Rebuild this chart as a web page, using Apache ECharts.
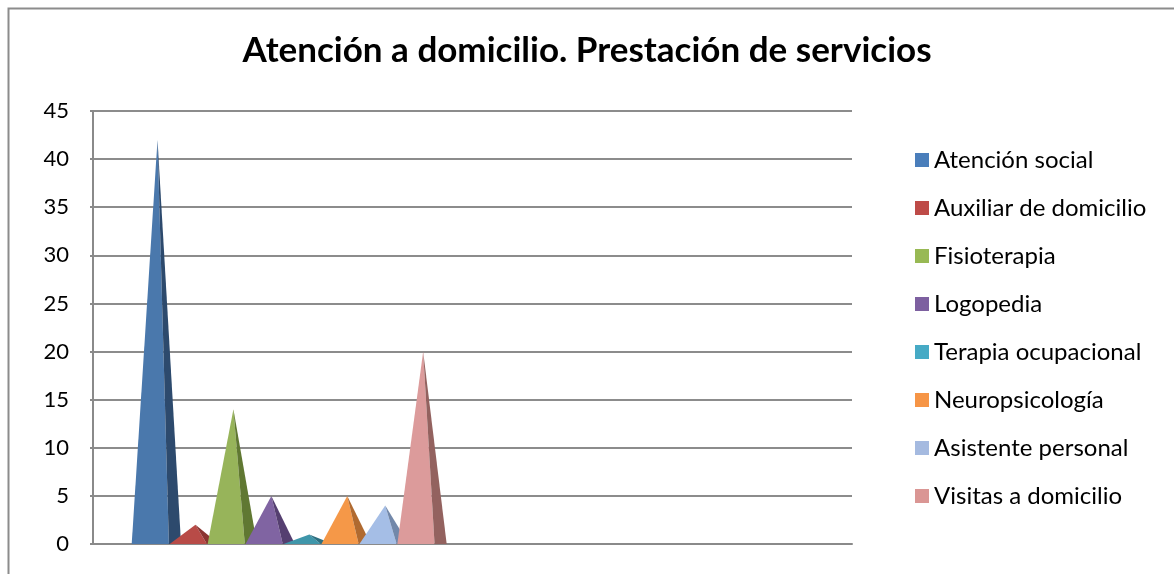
<!DOCTYPE html>
<html>
<head>
<meta charset="utf-8">
<script src="https://cdn.jsdelivr.net/npm/echarts@6/dist/echarts.min.js"></script>
<style>
    html, body {margin: 0; padding: 0; background: #fff;}
    #chartBox {width: 1174px; height: 574px;}
</style>
</head>
<body>
<div id="chartBox"></div>
<script>
// datos
let categorias = ['', ''];
let servicios = ['Atención social', 'Auxiliar de domicilio', 'Fisioterapia', 'Logopedia',
    'Terapia ocupacional', 'Neuropsicología', 'Asistente personal', 'Visitas a domicilio'];
let valores = [42, 2, 14, 5, 1, 5, 4, 20];
let yTicks = [0, 5, 10, 15, 20, 25, 30, 35, 40, 45];

// colores: leyenda, cara clara y cara oscura de cada pirámide
let colorLeyenda = ['#4A7EBB', '#BE4B48', '#98B954', '#7D60A0', '#46AAC5', '#F69546', '#A5BAE0', '#DA9694'];
let colorClaro = ['#4A78AC', '#B84B47', '#97B45A', '#8064A2', '#3F96AA', '#F59848', '#A5BEE6', '#DC9B9B'];
let colorOscuro = ['#2D4A6D', '#8A3430', '#607832', '#553F70', '#2C6F80', '#B06A30', '#7288AA', '#93625F'];

let chartBox = echarts.init(document.getElementById('chartBox'));

function piramide(idx) {
    return function (params, api) {
        let v = api.value(1);
        if (v == null || isNaN(v)) return;
        let cat = api.value(0);
        let base = api.coord([cat, 0]);
        let cima = api.coord([cat, v]);
        let slot = api.size([1, 0])[0] * 0.1;
        let cx = base[0] + (idx - 3.3) * slot;
        let izq = cx - slot * 0.68, corte = cx + slot * 0.3, der = cx + slot * 0.62;
        return {
            type: 'group',
            children: [
                {type: 'polygon', shape: {points: [[izq, base[1]], [cx, cima[1]], [corte, base[1]]]}, style: {fill: colorClaro[idx]}},
                {type: 'polygon', shape: {points: [[corte, base[1]], [cx, cima[1]], [der, base[1]]]}, style: {fill: colorOscuro[idx]}}
            ]
        };
    };
}

let series = servicios.map(function (nombre, i) {
    return {
        type: 'custom',
        name: nombre,
        renderItem: piramide(i),
        itemStyle: {color: colorLeyenda[i]},
        encode: {x: 0, y: 1},
        data: [[0, valores[i]]]
    };
});

let option = {
    animation: false,
    backgroundColor: '#fff',
    textStyle: {fontFamily: 'Lato'},
    title: {
        show: true, text: 'Atención a domicilio. Prestación de servicios', left: 'center', top: 28,
        textStyle: {fontFamily: 'Lato', fontWeight: 'bold', fontSize: 35, color: '#000'}
    },
    graphic: [{
        type: 'rect', left: 6, top: 6, silent: true,
        shape: {width: 1300, height: 700},
        style: {fill: 'none', stroke: '#8c8c8c', lineWidth: 2}
    }],
    legend: {
        orient: 'vertical', left: 910, top: 143,
        itemWidth: 14, itemHeight: 14, itemGap: 24, icon: 'rect',
        textStyle: {fontFamily: 'Lato', fontSize: 24, color: '#000'},
        data: servicios
    },
    grid: {left: 93, right: 322, top: 111, bottom: 30},
    xAxis: {
        type: 'category', data: categorias,
        axisLine: {show: true, lineStyle: {color: '#8a8a8a', width: 2}},
        axisTick: {show: false}, axisLabel: {show: false}, splitLine: {show: false}
    },
    yAxis: {
        type: 'value', min: yTicks[0], max: yTicks[yTicks.length - 1], interval: 5,
        axisLine: {show: true, lineStyle: {color: '#8a8a8a', width: 2}},
        axisTick: {show: true, length: 3, lineStyle: {color: '#8a8a8a', width: 2}},
        axisLabel: {fontFamily: 'Lato', fontSize: 22, color: '#000', margin: 24},
        splitLine: {show: true, lineStyle: {color: '#8c8c8c', width: 2}}
    },
    series: series
};
chartBox.setOption(option, true);
</script>
</body>
</html>
